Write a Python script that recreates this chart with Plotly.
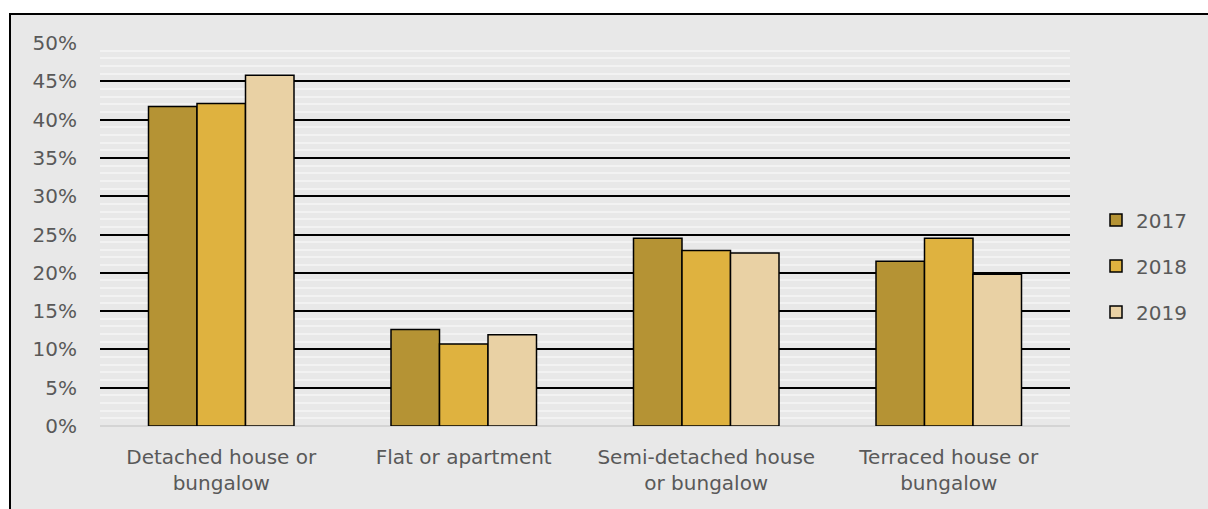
import plotly.graph_objects as go

categories = ["Detached house or<br>bungalow", "Flat or apartment", "Semi-detached house<br>or bungalow", "Terraced house or<br>bungalow"]
years = ["2017", "2018", "2019"]
v2017 = [0.417, 0.126, 0.245, 0.215]
v2018 = [0.421, 0.107, 0.229, 0.245]
v2019 = [0.458, 0.119, 0.226, 0.198]
colors = ["#b59334", "#dfb23f", "#e9d1a4"]

W, H = 1208, 509
L, T = 100, 43
R = W - 1070
B = H - 426
pw, ph = W - L - R, H - T - B

fig = go.Figure()
for i, (name, vals) in enumerate(zip(years, [v2017, v2018, v2019])):
    fig.add_trace(go.Bar(
        x=categories, y=vals, name=name, legendgroup=name,
        marker=dict(color=colors[i], line=dict(color="black", width=1.5)),
    ))

def px_to_paper_x(p):
    return (p - L) / pw

def px_to_paper_y(p):
    return 1 - (p - T) / ph

fig.add_shape(type="rect", xref="paper", yref="paper",
              x0=px_to_paper_x(10), x1=px_to_paper_x(W + 30),
              y0=px_to_paper_y(H + 30), y1=px_to_paper_y(14),
              fillcolor="#e8e8e8", line=dict(color="black", width=2), layer="below")

fig.update_layout(
    width=W, height=H,
    margin=dict(l=L, r=R, t=T, b=B, pad=0),
    paper_bgcolor="white", plot_bgcolor="rgba(0,0,0,0)",
    barmode="group", bargap=0.4, bargroupgap=0,
    font=dict(family="DejaVu Sans", size=20, color="#595959"),
    showlegend=True,
    legend=dict(x=px_to_paper_x(1096), y=px_to_paper_y(266), xanchor="left", yanchor="middle",
                traceorder="grouped", tracegroupgap=17,
                font=dict(size=20, color="#595959"), bgcolor="rgba(0,0,0,0)"),
    xaxis=dict(showgrid=False, showline=False, ticks="", tickfont=dict(size=20),
               ticklabelstandoff=17),
    yaxis=dict(range=[0, 0.5], dtick=0.05, tickformat=".0%",
               showgrid=True, gridcolor="black", gridwidth=1.5,
               zeroline=True, zerolinecolor="#d4d4d4", zerolinewidth=2,
               showline=False, ticks="", ticklabelstandoff=22,
               minor=dict(dtick=0.01, showgrid=True, gridcolor="#f2f2f2", gridwidth=2),
               tickfont=dict(size=20)),
)

fig.write_html("out.html",
               config={"displayModeBar": False},
               post_script="document.body.style.margin='0';document.body.style.overflow='hidden';")
